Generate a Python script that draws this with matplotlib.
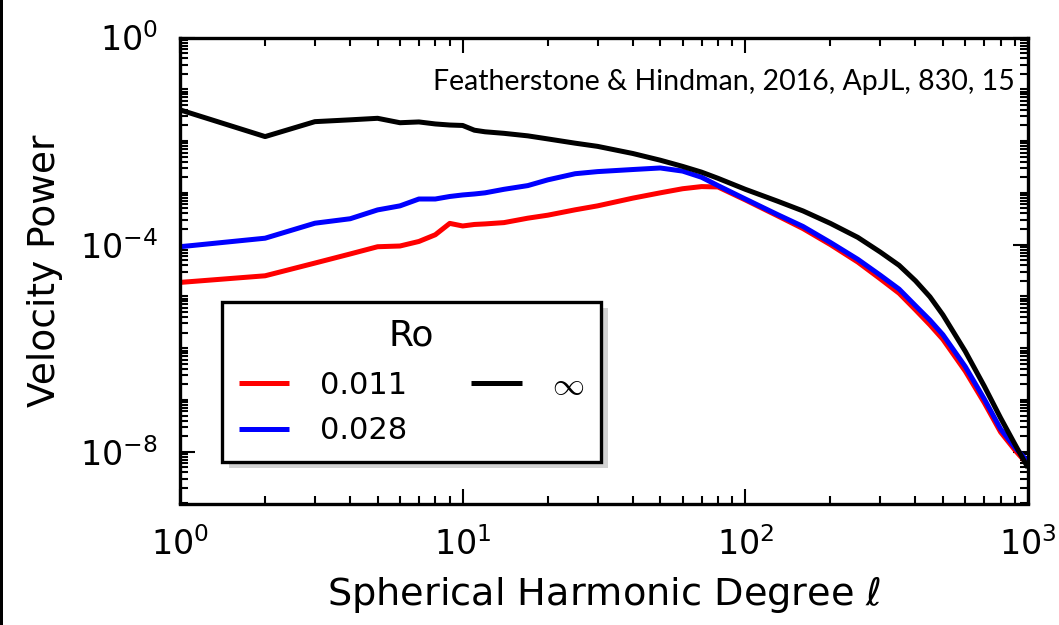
import numpy as np
import matplotlib
matplotlib.use("Agg")
import matplotlib.pyplot as plt
from matplotlib.patches import Rectangle, Shadow
from matplotlib.ticker import FixedLocator, NullFormatter

# Spherical harmonic degree samples
ell = [1, 2, 3, 4, 5, 6, 7, 8, 9, 10, 11, 12, 14, 17, 20, 25, 30, 40, 50, 60,
       70, 80, 100, 130, 160, 200, 250, 300, 350, 400, 450, 500, 600, 700,
       800, 900, 1000]

# Velocity power spectra for each Rossby number
power_ro_0011 = [1.86e-5, 2.5e-5, 4.4e-5, 6.6e-5, 9.1e-5, 9.4e-5, 1.15e-4,
                 1.55e-4, 2.57e-4, 2.29e-4, 2.45e-4, 2.51e-4, 2.66e-4, 3.24e-4,
                 3.7e-4, 4.7e-4, 5.6e-4, 7.9e-4, 1.0e-3, 1.2e-3, 1.32e-3,
                 1.3e-3, 7.3e-4, 3.6e-4, 2.04e-4, 1.0e-4, 4.6e-5, 2.19e-5,
                 1.15e-5, 5.5e-6, 2.82e-6, 1.48e-6, 3.6e-7, 8.9e-8, 2.4e-8,
                 1.07e-8, 5.6e-9]
power_ro_0028 = [9.1e-5, 1.33e-4, 2.59e-4, 3.16e-4, 4.68e-4, 5.6e-4, 7.6e-4,
                 7.6e-4, 8.5e-4, 9.1e-4, 9.5e-4, 1.0e-3, 1.17e-3, 1.38e-3,
                 1.78e-3, 2.34e-3, 2.57e-3, 2.82e-3, 3.02e-3, 2.63e-3, 2.0e-3,
                 1.38e-3, 7.6e-4, 3.8e-4, 2.24e-4, 1.10e-4, 5.2e-5, 2.57e-5,
                 1.38e-5, 6.6e-6, 3.47e-6, 1.82e-6, 4.4e-7, 1.05e-7, 2.75e-8,
                 1.2e-8, 6.4e-9]
power_ro_inf = [4.0e-2, 1.22e-2, 2.37e-2, 2.57e-2, 2.75e-2, 2.26e-2, 2.34e-2,
                2.14e-2, 2.04e-2, 2.0e-2, 1.62e-2, 1.51e-2, 1.41e-2, 1.26e-2,
                1.10e-2, 9.1e-3, 7.9e-3, 5.75e-3, 4.27e-3, 3.24e-3, 2.51e-3,
                1.91e-3, 1.17e-3, 6.9e-4, 4.47e-4, 2.57e-4, 1.38e-4, 7.2e-5,
                3.98e-5, 2.0e-5, 9.8e-6, 4.4e-6, 8.7e-7, 1.86e-7, 4.5e-8,
                1.38e-8, 4.9e-9]

series_labels = ["0.011", "0.028", r"$\infty$"]
series_colors = ["#ff0000", "#0000ff", "#000000"]

x_major = [1, 10, 100, 1000]
x_major_labels = [r"$10^{0}$", r"$10^{1}$", r"$10^{2}$", r"$10^{3}$"]
y_major = [1e-8, 1e-4, 1e0]
y_major_labels = [r"$10^{-8}$", r"$10^{-4}$", r"$10^{0}$"]

plt.rcParams["font.family"] = ["DejaVu Sans"]
plt.rcParams["mathtext.fontset"] = "dejavusans"

fig = plt.figure(figsize=(10.59, 6.25), dpi=100)
ax = fig.add_axes([0.170, 0.1944, 0.8007, 0.7456])

for ys, lab, col in zip([power_ro_0011, power_ro_0028, power_ro_inf],
                        series_labels, series_colors):
    ax.plot(ell, ys, color=col, lw=3.6, label=lab, solid_joinstyle="round",
            solid_capstyle="butt")

ax.set_xscale("log")
ax.set_yscale("log")
ax.set_xlim(1, 1000)
ax.set_ylim(1e-9, 1e0)

# tick layout
ax.xaxis.set_major_locator(FixedLocator(x_major))
ax.set_xticklabels(x_major_labels)
x_minor = [s * 10.0 ** k for k in range(0, 3) for s in range(2, 10)]
ax.xaxis.set_minor_locator(FixedLocator(x_minor))
ax.xaxis.set_minor_formatter(NullFormatter())

ax.yaxis.set_major_locator(FixedLocator(y_major))
ax.set_yticklabels(y_major_labels)
y_minor = [s * 10.0 ** k for k in range(-9, 0) for s in range(1, 10)
           if not any(abs(s * 10.0 ** k - m) < 1e-15 for m in y_major)]
ax.yaxis.set_minor_locator(FixedLocator(y_minor))
ax.yaxis.set_minor_formatter(NullFormatter())

ax.tick_params(which="both", direction="in", top=True, right=True,
               width=1.5, colors="black")
ax.tick_params(which="major", length=11, labelsize=24)
ax.tick_params(which="minor", length=5.5)
ax.tick_params(axis="y", which="major", pad=16)
ax.tick_params(axis="x", which="major", pad=17)

for sp in ax.spines.values():
    sp.set_linewidth(2.4)

ax.set_xlabel(r"Spherical Harmonic Degree $\ell$", fontsize=27.5, labelpad=9)
ax.set_ylabel("Velocity Power", fontsize=27, labelpad=12)

leg = ax.legend(ncol=2, title="Ro", fontsize=22, title_fontsize=26,
                loc="lower left", bbox_to_anchor=(0.0495, 0.0886),
                borderaxespad=0, fancybox=False, frameon=True,
                handlelength=1.65, handletextpad=1.0, columnspacing=2.1,
                labelspacing=0.55, borderpad=0.55)
frame = leg.get_frame()
frame.set_edgecolor("black")
frame.set_linewidth(2.4)
frame.set_facecolor("white")
frame.set_alpha(1)
for ln in leg.get_lines():
    ln.set_linewidth(3.6)
inf_text = leg.get_texts()[2]
inf_text.set_math_fontfamily("cm")
inf_text.set_fontsize(23)

shadow = Shadow(leg.legendPatch, 5, -4.5, facecolor="0.65", edgecolor="none",
                zorder=4.9)
ax.add_artist(shadow)

fig.text(0.958, 0.869, "Featherstone & Hindman, 2016, ApJL, 830, 15",
         ha="right", va="center", fontsize=20.5, family=["Lato", "DejaVu Sans"])

# narrow dark strip along the left edge
fig.add_artist(Rectangle((0, 0), 3.0 / 1059, 1, transform=fig.transFigure,
                         facecolor="black", edgecolor="none"))

fig.canvas.draw()
fig.savefig("out.png", dpi=100)
